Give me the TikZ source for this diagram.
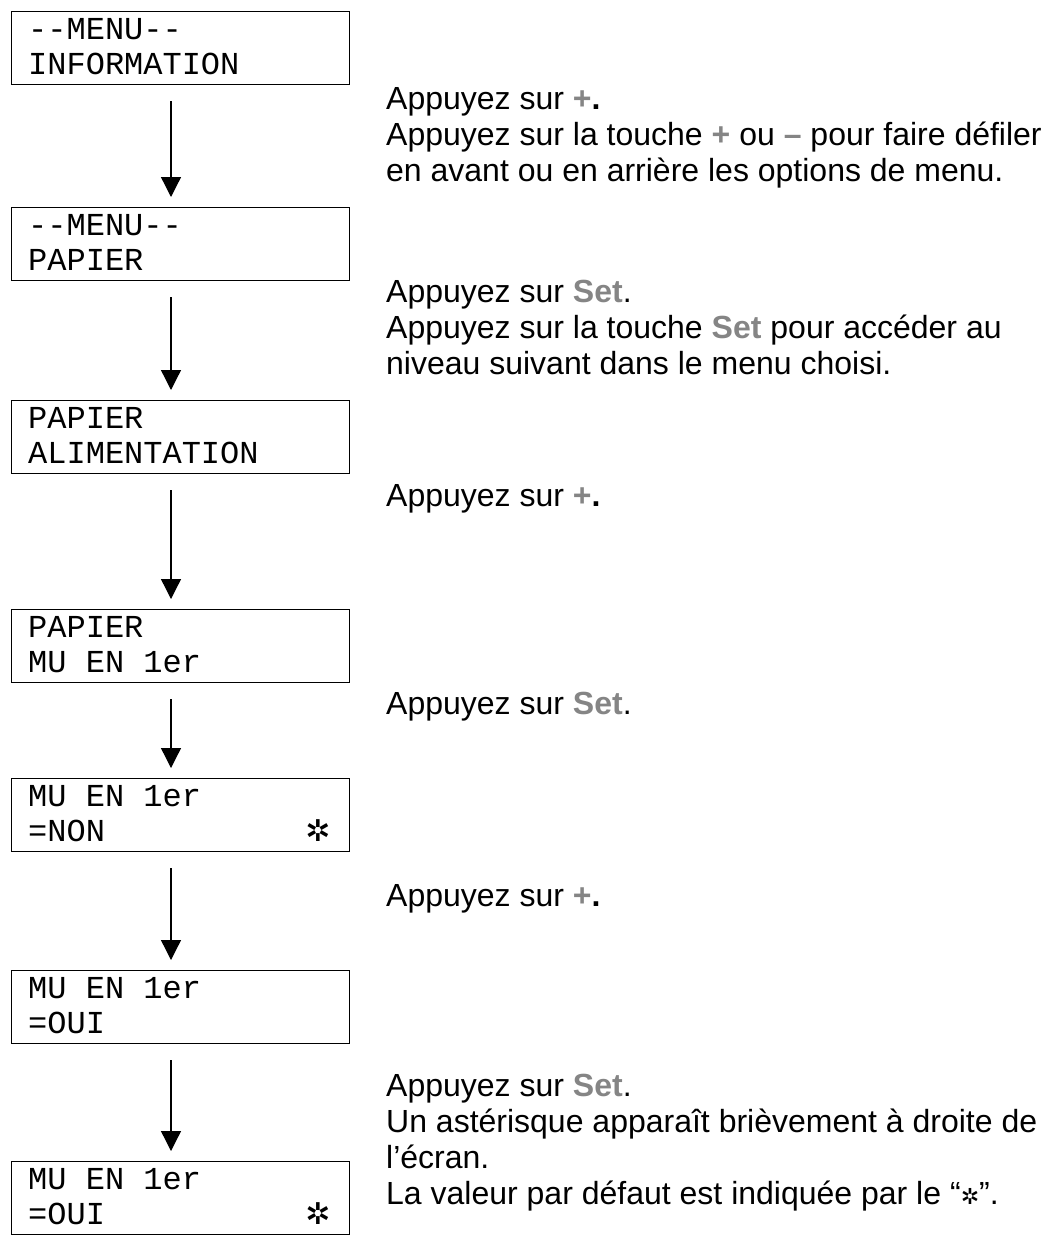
\documentclass[tikz,border=0pt]{standalone}
\usepackage{fontspec}
\setmainfont{Liberation Sans}
\setmonofont{Liberation Mono}
\newfontfamily\dejavu{DejaVu Sans}
\usetikzlibrary{arrows.meta}
\definecolor{keyg}{HTML}{858585}
\newcommand{\kk}[1]{\textcolor{keyg}{\bfseries #1}}
\newcommand{\mystar}{{\dejavu\bfseries\char"2732}}
\begin{document}
\begin{tikzpicture}[x=1pt,y=-1pt,
 box/.style={draw,line width=1.3pt,minimum width=338pt,minimum height=73pt,anchor=north west,inner sep=0pt},
 lcd/.style={anchor=base west,inner sep=0pt,font=\fontsize{32}{32}\ttfamily},
 star/.style={anchor=base,inner sep=0pt,font=\fontsize{30}{30}\selectfont},
 txt/.style={anchor=base west,inner sep=0pt,font=\fontsize{32}{36}\selectfont},
 arr/.style={-{Triangle[length=20pt,width=20pt]},line width=1.3pt}]
\useasboundingbox (0,0) rectangle (1051,1245);
\foreach \n/\y/\a/\b in {b1/11/--MENU--/INFORMATION,b2/207/--MENU--/PAPIER,b3/400/PAPIER/ALIMENTATION,b4/609/PAPIER/MU EN 1er,b5/778/MU EN 1er/=NON,b6/970/MU EN 1er/=OUI,b7/1161/MU EN 1er/=OUI}{
 \node[box] (\n) at (11,\y) {};
 \node[lcd] (\n a) at (28,\y+28) {\a};
 \node[lcd] (\n b) at (28,\y+63) {\b};
}
\node[star] (s5) at (318,778+63) {\mystar};
\node[star] (s7) at (318,1161+63) {\mystar};
\foreach \p/\q in {b1/b2,b2/b3,b3/b4,b4/b5,b5/b6,b6/b7}{
 \draw[arr] (\p.south -| 171,0) ++(0,16) coordinate (\p s) -- ([yshift=10pt]\q.north -| 171,0) coordinate (\p e);
}
\foreach \n/\y/\t in {
 t1/109/{Appuyez sur \kk{+}\textbf{.}},
 t1b/145/{Appuyez sur la touche \kk{+} ou \kk{–} pour faire défiler},
 t1c/181/{en avant ou en arrière les options de menu.},
 t2/302/{Appuyez sur \kk{Set}.},
 t2b/338/{Appuyez sur la touche \kk{Set} pour accéder au},
 t2c/374/{niveau suivant dans le menu choisi.},
 t3/506/{Appuyez sur \kk{+}\textbf{.}},
 t4/714/{Appuyez sur \kk{Set}.},
 t5/906/{Appuyez sur \kk{+}\textbf{.}},
 t6/1096/{Appuyez sur \kk{Set}.},
 t6b/1132/{Un astérisque apparaît brièvement à droite de},
 t6c/1168/{l’écran.},
 t6d/1204/{La valeur par défaut est indiquée par le “{\fontsize{22}{22}\dejavu\bfseries\char"2732}”.}}
 {\node[txt] (\n) at (386,\y) {\t};}
\end{tikzpicture}
\end{document}
